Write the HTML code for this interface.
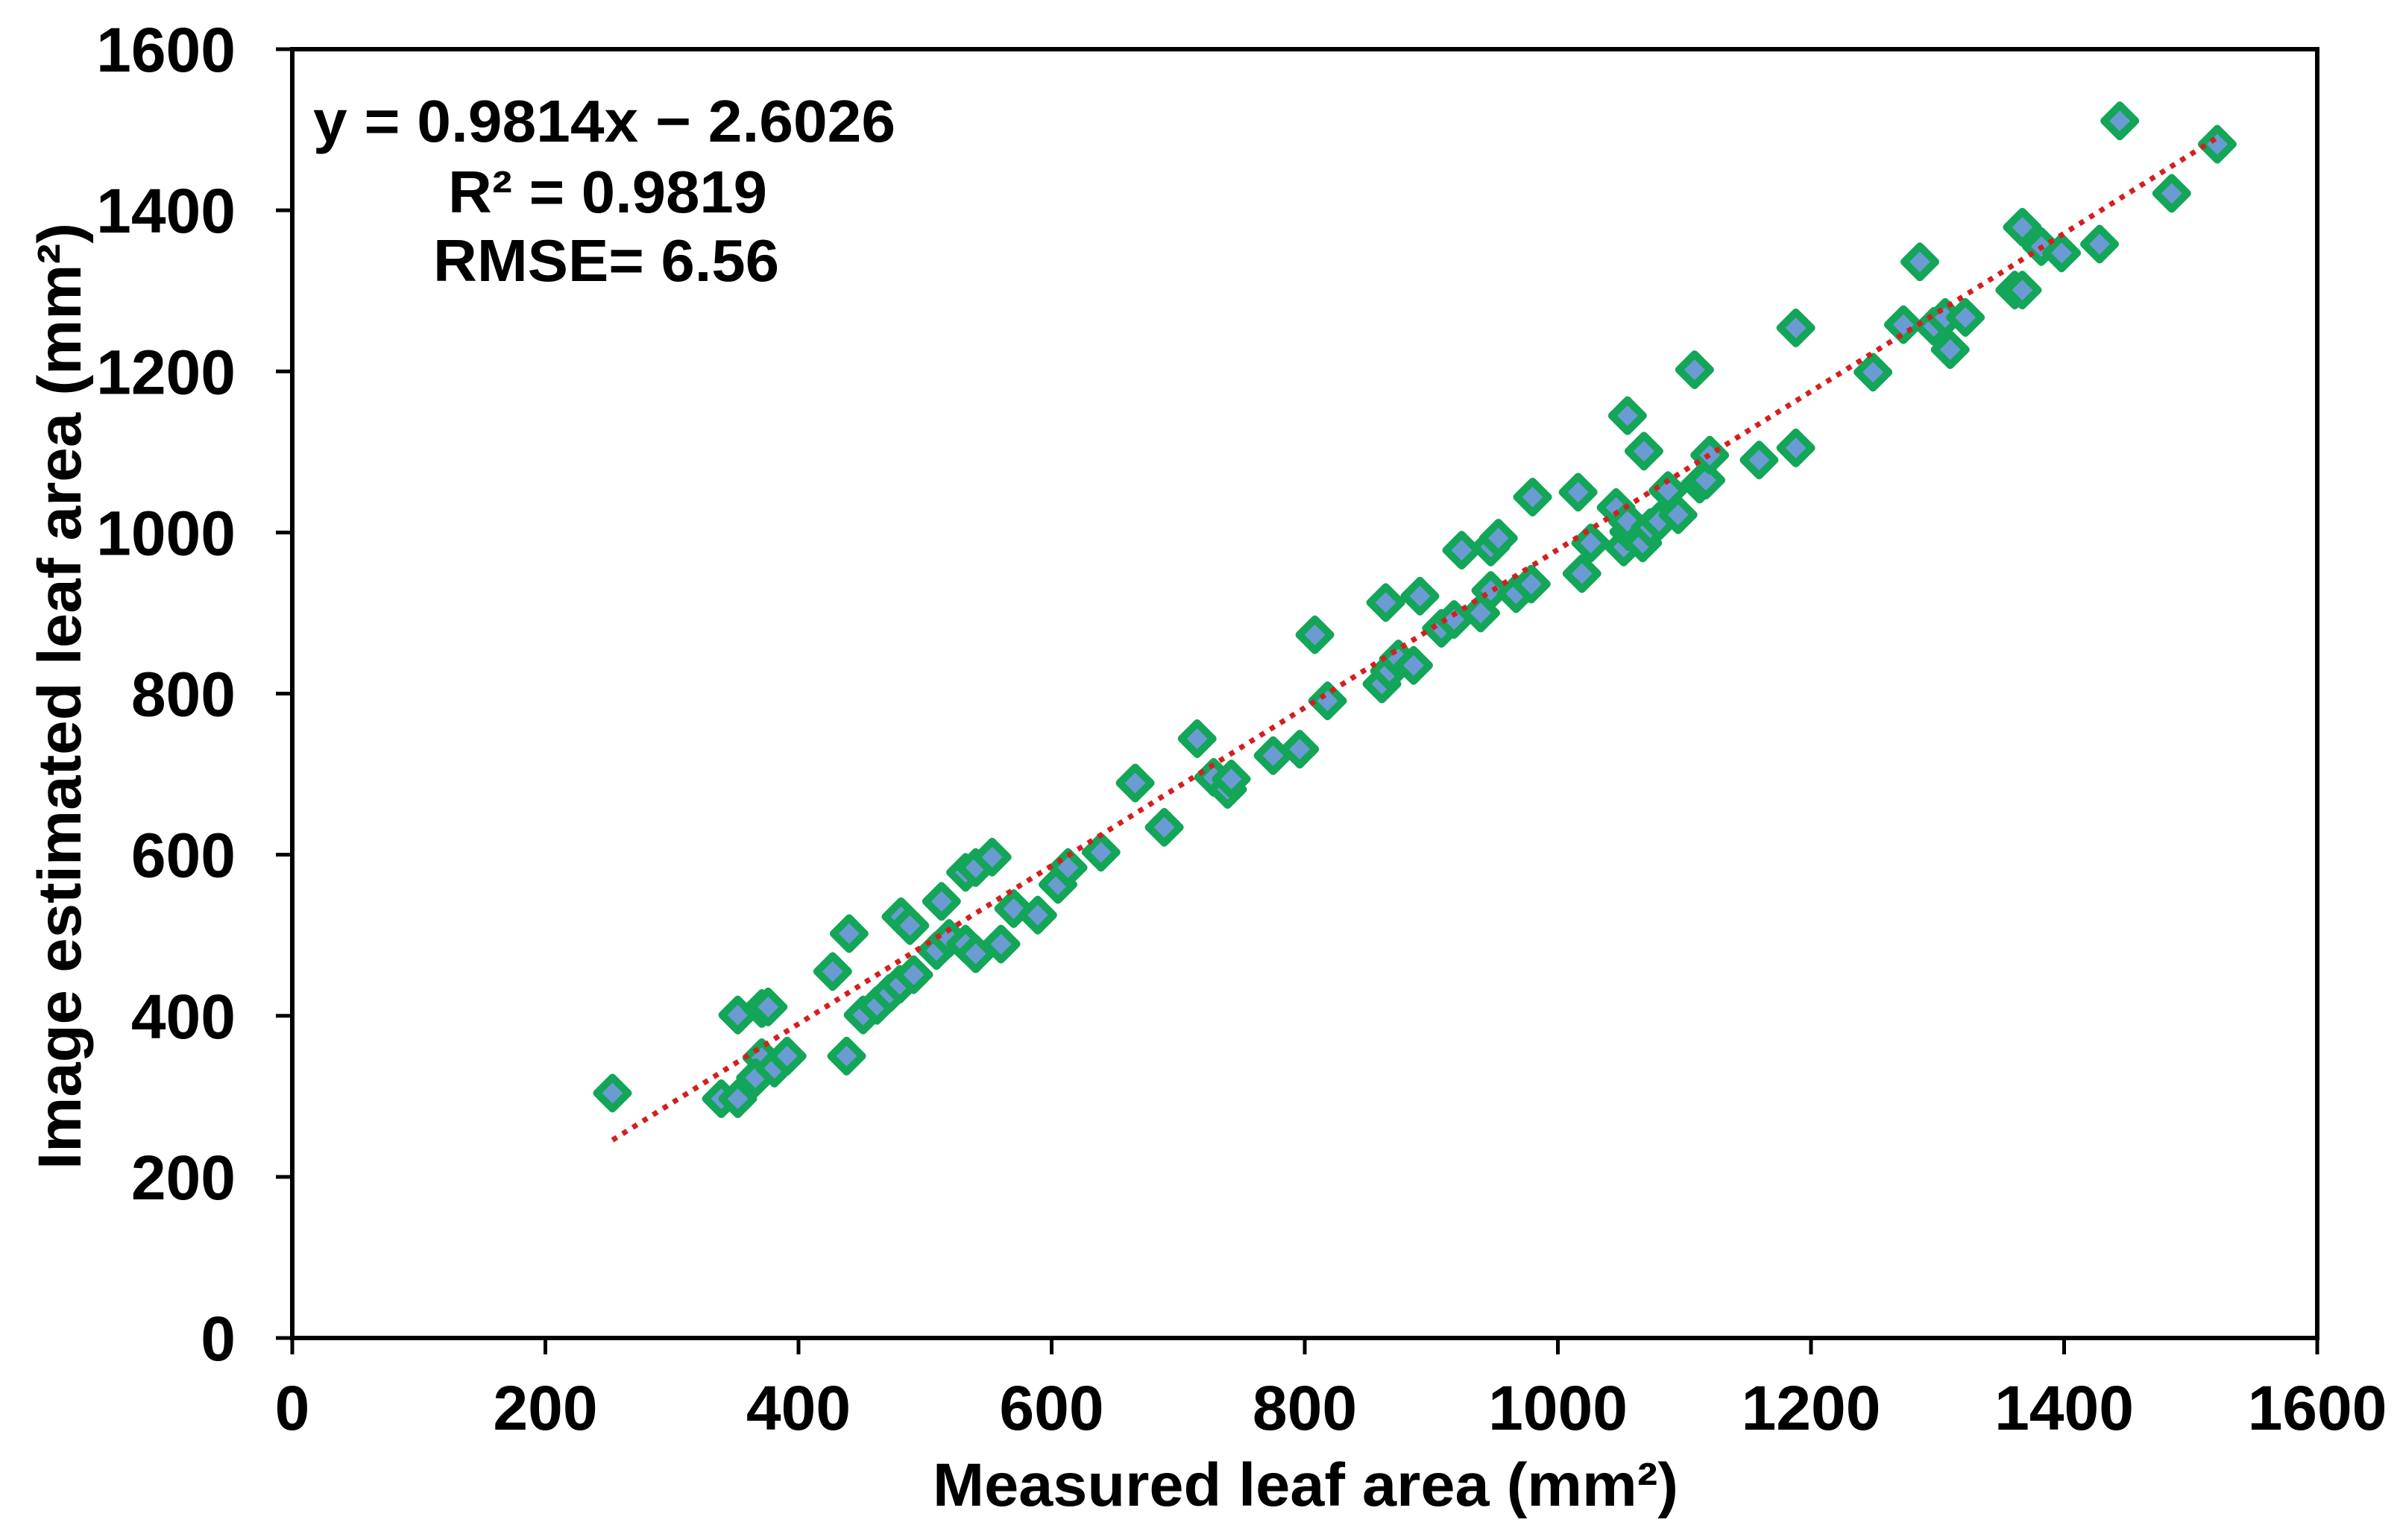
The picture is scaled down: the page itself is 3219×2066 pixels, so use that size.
<!DOCTYPE html>
<html><head><meta charset="utf-8">
<style>
html,body{margin:0;padding:0;background:#fff;}
svg{display:block;font-family:"Liberation Sans",Arial,sans-serif;font-weight:bold;}
</style></head>
<body>
<svg id="chart" width="3219" height="2066" viewBox="0 0 3219 2066" xmlns="http://www.w3.org/2000/svg">
<rect x="0" y="0" width="3219" height="2066" fill="#fff"/>
<g id="plot"></g>
<text x="420" y="190" font-size="80" textLength="781" lengthAdjust="spacingAndGlyphs">y = 0.9814x − 2.6026</text>
<text x="601" y="285" font-size="80" textLength="428" lengthAdjust="spacingAndGlyphs">R² = 0.9819</text>
<text x="581" y="377" font-size="80" textLength="464" lengthAdjust="spacingAndGlyphs">RMSE= 6.56</text>
<text x="1751" y="2020" font-size="82" text-anchor="middle" textLength="1000" lengthAdjust="spacingAndGlyphs">Measured leaf area (mm²)</text>
<text transform="translate(108,934) rotate(-90)" x="0" y="0" font-size="82" text-anchor="middle" textLength="1270" lengthAdjust="spacingAndGlyphs">Image estimated leaf area (mm²)</text>
</svg>
<script>
const xVals=[253,339,352,352,371,376,371,366,381,391,438,427,440,451,462,472,480,491,481,488,513,509,519,532,540,532,540,553,560,570,589,605,613,639,666,689,715,728,739,742,775,796,808,818,861,867,864,874,886,891,908,918,924,939,947,947,953,967,979,980,1016,1019,1026,1046,1052,1056,1055,1055,1067,1073,1068,1080,1087,1095,1108,1112,1117,1120,1159,1188,1188,1249,1273,1286,1297,1306,1310,1322,1361,1367,1367,1382,1398,1428,1444,1485,1521];
const yVals=[304,297,297,401,409,411,348,323,335,350,350,455,502,401,413,428,439,451,523,512,542,481,496,489,477,578,584,597,489,533,525,563,584,603,689,634,744,696,681,694,723,731,873,791,812,828,913,843,835,921,881,892,978,900,928,982,993,924,936,1044,1050,949,987,1031,982,1001,1145,1014,987,1006,1101,1014,1052,1022,1202,1060,1065,1096,1090,1105,1254,1199,1258,1336,1256,1267,1227,1267,1301,1301,1379,1355,1347,1358,1511,1421,1482];
const xTicks=[0,200,400,600,800,1000,1200,1400,1600];
const yTicks=[0,200,400,600,800,1000,1200,1400,1600];
const slope=0.9814, intercept=-2.6026;
const trendRange=[253,1521];

const L=392,R=3108,T=66,B=1795;
const sx=v=>L+(v-0)/1600*(R-L);
const sy=v=>B-(v-0)/1600*(B-T);
const NS="http://www.w3.org/2000/svg";
const g=document.getElementById('plot');
function mk(tag,attrs,parent){const e=document.createElementNS(NS,tag);for(const k in attrs)e.setAttribute(k,attrs[k]);(parent||g).appendChild(e);return e;}

const fr=mk('rect',{x:L,y:T,width:R-L,height:B-T,fill:'none',stroke:'#000','stroke-width':6});



xTicks.forEach(t=>{
  const ln=mk('line',{x1:sx(t),x2:sx(t),y1:B,y2:B+22,stroke:'#000','stroke-width':5});
  
  
  const tx=mk('text',{x:sx(t),y:1918,'font-size':84,'text-anchor':'middle'});
  
  
  tx.textContent=t;
});
yTicks.forEach(t=>{
  const ln=mk('line',{x1:L-22,x2:L,y1:sy(t),y2:sy(t),stroke:'#000','stroke-width':5});
  
  
  const tx=mk('text',{x:316,y:sy(t)+30,'font-size':84,'text-anchor':'end'});
  
  
  tx.textContent=t;
});

xVals.forEach((xv,i)=>{
  const cx=sx(xv),cy=sy(yVals[i]),r=21;
  const p=mk('polygon',{points:`${cx},${cy-r} ${cx+r},${cy} ${cx},${cy+r} ${cx-r},${cy}`,fill:'#6b9bd2',stroke:'#13a558','stroke-width':10,'stroke-linejoin':'round'});
  
  
});

const tl=mk('line',{x1:sx(trendRange[0]),y1:sy(slope*trendRange[0]+intercept),x2:sx(trendRange[1]),y2:sy(slope*trendRange[1]+intercept),stroke:'#d41f1f','stroke-width':7,'stroke-dasharray':'7 9'});


</script>
</body></html>
